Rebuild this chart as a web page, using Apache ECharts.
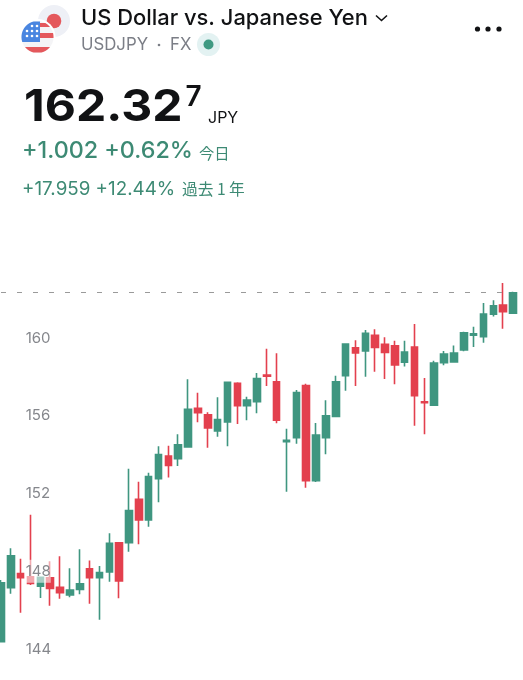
<!DOCTYPE html>
<html>
<head>
<meta charset="utf-8">
<style>html,body{margin:0;padding:0;background:#fff}#c{width:523px;height:680px}</style>
<script src="https://cdn.jsdelivr.net/npm/echarts@6/dist/echarts.min.js"></script>
</head>
<body>
<div id="c"></div>
<script>
var opens = [144.38,147.16,147.88,147.72,147.23,147.67,147.18,146.78,147.07,148.13,147.67,147.96,149.47,149.47,151.70,150.64,152.76,153.93,153.79,154.39,156.38,156.05,155.22,155.68,157.67,156.52,156.72,158.10,157.75,154.67,154.87,157.55,152.66,154.87,155.97,158.06,159.50,159.33,160.14,159.68,159.60,158.75,159.54,156.72,156.54,158.73,158.77,159.38,160.15,160.07,161.23,161.70,161.27];
var closes = [147.41,148.79,147.67,147.38,147.69,147.12,146.90,147.04,147.35,147.67,147.93,149.44,147.50,151.12,150.64,152.87,154.00,153.45,154.51,156.33,156.16,155.37,155.80,157.72,156.52,156.81,157.91,158.03,155.77,154.74,157.19,152.66,155.01,156.00,157.75,159.69,159.23,160.24,159.52,159.26,158.61,159.28,157.03,156.67,158.71,159.18,159.23,160.27,160.21,161.23,161.66,161.35,162.327];
var lows = [144.38,146.85,145.87,147.29,146.63,146.23,146.59,146.66,146.82,146.33,145.51,147.46,146.61,149.01,149.39,150.29,151.55,152.83,153.42,154.39,155.66,154.36,154.92,154.43,155.58,155.77,156.13,157.53,155.61,152.09,154.56,152.30,152.59,154.02,155.95,157.29,157.53,158.01,158.27,157.89,157.62,158.54,155.49,155.05,156.54,158.60,158.77,159.32,159.54,159.76,161.10,160.48,161.27];
var highs = [147.55,149.18,148.65,150.91,147.71,148.51,148.77,148.15,149.13,148.56,148.27,149.95,149.51,153.28,152.61,153.07,154.43,154.46,155.05,157.88,157.19,156.18,156.95,157.72,157.72,156.98,158.20,159.45,159.21,155.33,157.33,157.65,155.63,156.80,158.06,159.73,159.88,160.41,160.45,160.04,159.86,159.86,160.72,157.94,158.83,159.33,159.62,160.32,160.58,161.80,161.94,162.83,162.38];
var lastPrice = 162.327;
var tickValues = [144,148,152,156,160];
var categories = opens.map(function (_, i) { return String(i + 1); });
var candleData = opens.map(function (o, i) { return [o, closes[i], lows[i], highs[i]]; });

var GREEN = '#3f9680', RED = '#e3404e', TEXTGREEN = '#3d8a74', INK = '#111214';
var FONT = 'Inter, Roboto, sans-serif', CJK = '"Noto Sans CJK JP", sans-serif';
function txt(x, y, s, size, color, weight, family, sx) {
  return { type: 'text', x: x, y: y, z: 20, scaleX: sx || 1, style: { text: s, fontSize: size, fill: color, fontWeight: weight || 400, fontFamily: family || FONT, verticalAlign: 'middle', align: 'left' } };
}
function circ(cx, cy, r, fill, z) {
  return { type: 'circle', z: z || 20, shape: { cx: cx, cy: cy, r: r }, style: { fill: fill } };
}
/* part of the US flag disc that falls inside a box */
function disc(x0, x1, y0, y1, fill) {
  var cx = 37.5, cy = 37, r = 16, left = [], right = [];
  for (var y = y0; y <= y1 + 0.001; y += 0.5) {
    var d = Math.sqrt(Math.max(0, r * r - (y - cy) * (y - cy)));
    var a = Math.max(x0, cx - d), b = Math.min(x1, cx + d);
    if (b > a) { left.unshift([a, y]); right.push([b, y]); }
  }
  return { type: 'polygon', z: 24, shape: { points: right.concat(left) }, style: { fill: fill } };
}
var FLAG_BLUE = '#4a86e0', FLAG_RED = '#e4585c';
var graphics = [
  circ(54, 21, 16, '#eef0f6'), circ(54, 21, 7.3, FLAG_RED, 21),
  circ(37.5, 37, 18, '#ffffff', 22), circ(37.5, 37, 16, '#f4f4f6', 23),
  disc(20, 40, 21, 42, FLAG_BLUE),
  disc(40, 54, 23, 27, FLAG_RED),
  disc(40, 54, 33, 38, FLAG_RED),
  disc(20, 54, 47, 53, FLAG_RED),
  circ(32, 26, 1.3, '#fff', 25), circ(37, 26, 1.3, '#fff', 25),
  circ(27, 31, 1.3, '#fff', 25), circ(32, 31, 1.3, '#fff', 25), circ(37, 31, 1.3, '#fff', 25),
  circ(27, 36, 1.3, '#fff', 25), circ(32, 36, 1.3, '#fff', 25), circ(37, 36, 1.3, '#fff', 25),
  txt(81, 18, 'US Dollar vs. Japanese Yen', 21.9, INK, 500),
  { type: 'polyline', z: 20, shape: { points: [[376, 15.5], [381.5, 20.5], [387, 15.5]] }, style: { fill: null, stroke: INK, lineWidth: 1.6 } },
  circ(477.5, 29, 2.6, INK), circ(488, 29, 2.6, INK), circ(499, 29, 2.6, INK),
  txt(81, 44.5, 'USDJPY', 16.8, '#7b7e86'), circ(159, 45, 1.3, '#7b7e86'), txt(170, 44.5, 'FX', 16.8, '#7b7e86'),
  circ(208.5, 44.5, 11.5, '#e3f2f2'), circ(208.5, 44.5, 5, '#3f9a82', 21),
  txt(24, 108, '162.32', 44.5, INK, 700, FONT, 1.08),
  txt(185.5, 98, '7', 28, INK, 600),
  txt(208, 118.3, 'JPY', 16, INK),
  txt(22, 151, '+1.002 +0.62%', 23.3, TEXTGREEN, 500),
  txt(199, 153.3, '今日', 15.3, '#3d8a74', 400, CJK),
  txt(22, 189, '+17.959 +12.44%', 18.8, TEXTGREEN, 400),
  txt(182, 189, '過去 1 年', 15.7, '#3d8a74', 400, CJK)
];

var chart = echarts.init(document.getElementById('c'), null, { renderer: 'canvas', width: 523, height: 680 });
chart.setOption({
  animation: false,
  backgroundColor: '#ffffff',
  grid: { left: 1, width: 512, top: 260.24, height: 388.8, containLabel: false },
  xAxis: { type: 'category', data: categories, boundaryGap: false, axisLine: { show: false }, axisTick: { show: false }, axisLabel: { show: false }, splitLine: { show: false } },
  yAxis: {
    type: 'value', min: 144, max: 164, interval: 4, position: 'left', z: 10,
    axisLine: { show: false }, axisTick: { show: false }, splitLine: { show: false },
    axisLabel: {
      inside: true, margin: 24.7, color: '#85878c', fontSize: 15, fontFamily: FONT,
      backgroundColor: 'rgba(255,255,255,0.55)', padding: [2, 0, 6, 0],
      formatter: function (v) { return tickValues.indexOf(v) >= 0 ? String(v) : ''; }
    }
  },
  series: [{
    type: 'candlestick', data: candleData, barWidth: 7, z: 2, clip: false,
    itemStyle: { color: GREEN, color0: RED, borderColor: GREEN, borderColor0: RED, borderWidth: 1.6 },
    markLine: {
      silent: true, symbol: 'none', animation: false, label: { show: false },
      lineStyle: { type: [5, 11], color: '#9a9a9a', width: 1 },
      data: [{ yAxis: lastPrice }]
    }
  }],
  graphic: graphics
});
</script>
</body>
</html>
